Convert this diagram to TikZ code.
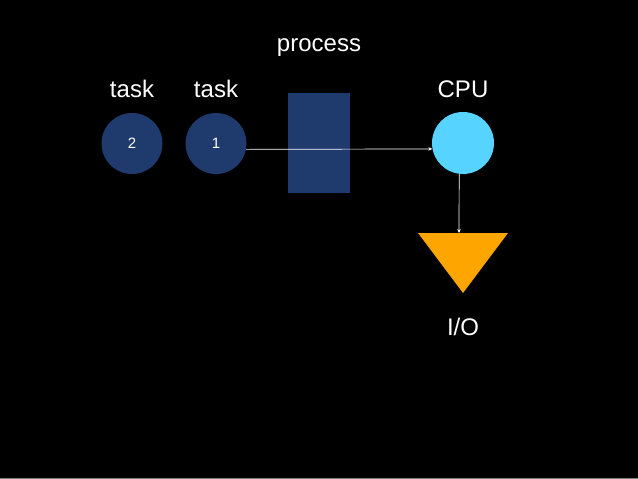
\documentclass[tikz,border=0pt]{standalone}
\usepackage{fontspec}
\setmainfont{Liberation Sans}
\usetikzlibrary{arrows.meta}
\definecolor{taskblue}{RGB}{31,59,110}
\definecolor{cpucyan}{RGB}{86,212,255}
\definecolor{ioorange}{RGB}{255,165,0}
\begin{document}
\begin{tikzpicture}[x=1pt,y=-1pt,
  task/.style={circle,fill=taskblue,minimum size=61pt,text=white,font=\fontsize{15}{17}\selectfont},
  label/.style={text=white,font=\fontsize{24}{28}\selectfont},
  flow/.style={white,line width=0.7pt,-{Stealth[length=4pt,width=3.5pt]}}]
\tikzstyle{every node}+=[inner sep=0pt]
\fill [black] (0,0) rectangle (638,479);
\useasboundingbox (0,0) rectangle (638,479);
\draw [gray] (0,478.5) -- (638,478.5);
% tasks
\node [task] (t2) at (132,143.5) {2};
\node [task] (t1) at (216,143.5) {1};
\node [label] (l2) at (132,89) {task};
\node [label] (l1) at (216,89) {task};
% process
\node [fill=taskblue,minimum width=62pt,minimum height=100pt] (proc) at (319,143) {};
\node [label] (lp) at (319,48) {process};
% CPU
\node [circle,fill=cpucyan,minimum size=62pt] (cpu) at (463,143) {};
\node [label] (lc) at (463,89) {CPU};
% I/O
\coordinate (a) at (418,233);
\coordinate (b) at (508,233);
\coordinate (c) at (463,293);
\coordinate (iotop) at (459,233);
\fill [ioorange] (a) -- (b) -- (c) -- cycle;
\node [label] (lio) at (463,327) {I/O};
% arrows
\draw [flow] (t1.-11) -- (cpu.191);
\draw [flow] (cpu.263) -- (iotop);
\end{tikzpicture}
\end{document}
